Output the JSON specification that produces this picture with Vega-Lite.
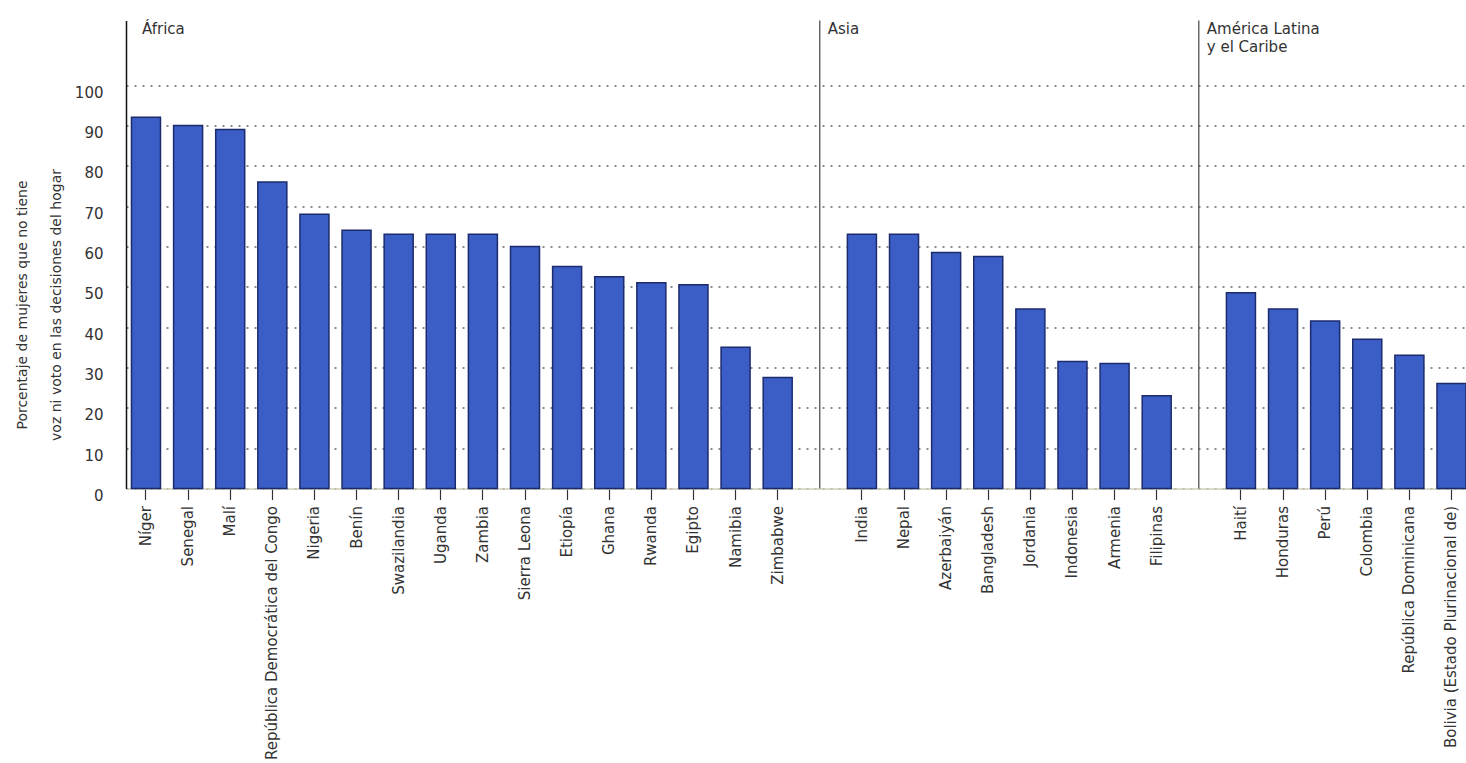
{
  "$schema": "https://vega.github.io/schema/vega-lite/v6.json",
  "autosize": {"type": "none"},
  "padding": {"left": 126, "top": 20.5, "right": 0, "bottom": 274.5},
  "width": 1340,
  "height": 468,
  "background": "#ffffff",
  "config": {
    "font": "DejaVu Sans",
    "view": {"stroke": null},
    "text": {"font": "DejaVu Sans", "fontSize": 15, "fill": "#333333"}
  },
  "datasets": {
    "bars": [
      {"pais": "Níger", "region": "África", "valor": 92},
      {"pais": "Senegal", "region": "África", "valor": 90},
      {"pais": "Malí", "region": "África", "valor": 89},
      {"pais": "República Democrática del Congo", "region": "África", "valor": 76},
      {"pais": "Nigeria", "region": "África", "valor": 68},
      {"pais": "Benín", "region": "África", "valor": 64},
      {"pais": "Swazilandia", "region": "África", "valor": 63},
      {"pais": "Uganda", "region": "África", "valor": 63},
      {"pais": "Zambia", "region": "África", "valor": 63},
      {"pais": "Sierra Leona", "region": "África", "valor": 60},
      {"pais": "Etiopía", "region": "África", "valor": 55},
      {"pais": "Ghana", "region": "África", "valor": 52.5},
      {"pais": "Rwanda", "region": "África", "valor": 51},
      {"pais": "Egipto", "region": "África", "valor": 50.5},
      {"pais": "Namibia", "region": "África", "valor": 35},
      {"pais": "Zimbabwe", "region": "África", "valor": 27.5},
      {"pais": "India", "region": "Asia", "valor": 63},
      {"pais": "Nepal", "region": "Asia", "valor": 63},
      {"pais": "Azerbaiyán", "region": "Asia", "valor": 58.5},
      {"pais": "Bangladesh", "region": "Asia", "valor": 57.5},
      {"pais": "Jordania", "region": "Asia", "valor": 44.5},
      {"pais": "Indonesia", "region": "Asia", "valor": 31.5},
      {"pais": "Armenia", "region": "Asia", "valor": 31},
      {"pais": "Filipinas", "region": "Asia", "valor": 23},
      {"pais": "Haití", "region": "América Latina y el Caribe", "valor": 48.5},
      {"pais": "Honduras", "region": "América Latina y el Caribe", "valor": 44.5},
      {"pais": "Perú", "region": "América Latina y el Caribe", "valor": 41.5},
      {"pais": "Colombia", "region": "América Latina y el Caribe", "valor": 37},
      {"pais": "República Dominicana", "region": "América Latina y el Caribe", "valor": 33},
      {"pais": "Bolivia (Estado Plurinacional de)", "region": "América Latina y el Caribe", "valor": 26}
    ],
    "seps": [
      {"pais": "gap1"},
      {"pais": "gap2"}
    ],
    "regiones": [
      {"pais": "Níger", "texto": "África"},
      {"pais": "gap1", "texto": "Asia"},
      {"pais": "gap2", "texto": "América Latina\ny el Caribe"}
    ]
  },
  "encoding": {
    "x": {
      "field": "pais",
      "type": "nominal",
      "title": null,
      "scale": {
        "domain": ["Níger", "Senegal", "Malí", "República Democrática del Congo", "Nigeria", "Benín", "Swazilandia", "Uganda", "Zambia", "Sierra Leona", "Etiopía", "Ghana", "Rwanda", "Egipto", "Namibia", "Zimbabwe", "gap1", "India", "Nepal", "Azerbaiyán", "Bangladesh", "Jordania", "Indonesia", "Armenia", "Filipinas", "gap2", "Haití", "Honduras", "Perú", "Colombia", "República Dominicana", "Bolivia (Estado Plurinacional de)"],
        "paddingInner": 0.311,
        "paddingOuter": 0.065,
        "align": 1
      },
      "axis": {
        "labelAngle": -90,
        "labelFont": "DejaVu Sans",
        "labelFontSize": 15,
        "labelColor": "#333333",
        "labelPadding": 6,
        "labelExpr": "indexof(datum.value, 'gap') === 0 ? '' : datum.value",
        "labelOverlap": false,
        "labelLimit": 400,
        "tickSize": 11,
        "tickColor": "#333333",
        "tickWidth": 1.2,
        "tickOpacity": {"condition": {"test": "indexof(datum.value, 'gap') === 0", "value": 0}, "value": 1},
        "domainColor": "#cfcfb8",
        "domainWidth": 1.5,
        "grid": false
      }
    }
  },
  "layer": [
    {
      "data": {"name": "bars"},
      "mark": {"type": "bar", "fill": "#3b5ec6", "stroke": "#1c2b6e", "strokeWidth": 1.5},
      "encoding": {
        "y": {
          "field": "valor",
          "type": "quantitative",
          "scale": {"domain": [0, 116], "nice": false, "zero": true},
          "axis": {
            "title": ["Porcentaje de mujeres que no tiene", "voz ni voto en las decisiones del hogar"],
            "titleFont": "DejaVu Sans",
            "titleFontSize": 14,
            "titleFontWeight": "normal",
            "titleColor": "#333333",
            "titleAngle": -90,
            "titleBaseline": "top",
            "titleLineHeight": 34,
            "titleX": -111,
            "titleY": 284,
            "values": [0, 10, 20, 30, 40, 50, 60, 70, 80, 90, 100],
            "labelFont": "DejaVu Sans",
            "labelFontSize": 15,
            "labelColor": "#333333",
            "labelBaseline": "top",
            "labelPadding": 23,
            "ticks": false,
            "domainColor": "#111111",
            "domainWidth": 1.5,
            "grid": true,
            "gridColor": "#666666",
            "gridDash": [2, 6],
            "gridWidth": 1.5
          }
        }
      }
    },
    {
      "data": {"name": "seps"},
      "mark": {"type": "rule", "color": "#444444", "strokeWidth": 1.2},
      "encoding": {}
    },
    {
      "data": {"name": "regiones"},
      "transform": [{"filter": "datum.pais === 'Níger'"}],
      "mark": {"type": "text", "align": "left", "baseline": "top", "dx": -4, "dy": 1, "lineBreak": "\n", "lineHeight": 18},
      "encoding": {
        "text": {"field": "texto"},
        "y": {"datum": 116, "type": "quantitative"}
      }
    },
    {
      "data": {"name": "regiones"},
      "transform": [{"filter": "datum.pais !== 'Níger'"}],
      "mark": {"type": "text", "align": "left", "baseline": "top", "dx": 8, "dy": 1, "lineBreak": "\n", "lineHeight": 18},
      "encoding": {
        "text": {"field": "texto"},
        "y": {"datum": 116, "type": "quantitative"}
      }
    }
  ]
}
